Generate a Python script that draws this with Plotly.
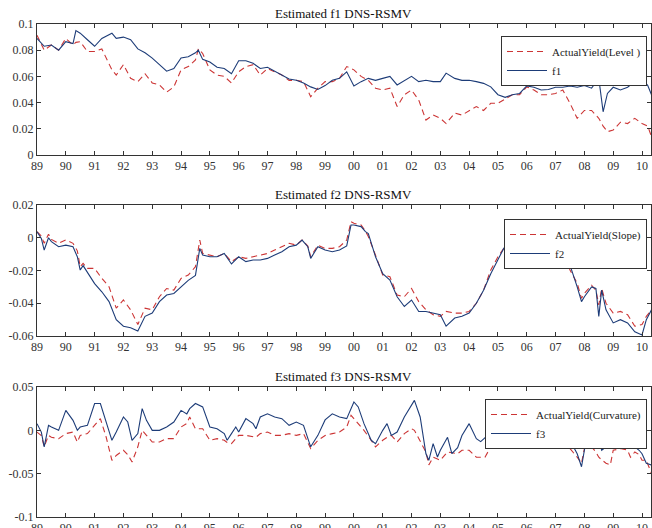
import plotly.graph_objects as go

# ---------------- data ----------------
year_ticks = list(range(1989, 2011))
year_labels = [str(y)[2:] for y in year_ticks]

# Panel 1: level
t1 = [1989.0, 1989.25, 1989.5, 1989.75,
      1990.0, 1990.25, 1990.35, 1990.5, 1990.75,
      1991.0, 1991.25, 1991.5, 1991.6, 1991.75,
      1992.0, 1992.25, 1992.5, 1992.75,
      1993.0, 1993.25, 1993.5, 1993.75,
      1994.0, 1994.25, 1994.5, 1994.6, 1994.75,
      1995.0, 1995.25, 1995.5, 1995.75,
      1996.0, 1996.25, 1996.5, 1996.75,
      1997.0, 1997.25, 1997.5, 1997.75,
      1998.0, 1998.25, 1998.5, 1998.75,
      1999.0, 1999.25, 1999.5, 1999.75,
      2000.0, 2000.25, 2000.5, 2000.75,
      2001.0, 2001.25, 2001.5, 2001.75,
      2002.0, 2002.25, 2002.5, 2002.75,
      2003.0, 2003.2, 2003.5, 2003.75,
      2004.0, 2004.25, 2004.5, 2004.75,
      2005.0, 2005.25, 2005.5, 2005.75,
      2006.0, 2006.25, 2006.5, 2006.75,
      2007.0, 2007.25, 2007.5, 2007.75,
      2008.0, 2008.25, 2008.5, 2008.65, 2008.8,
      2009.0, 2009.25, 2009.5, 2009.75,
      2010.0, 2010.2, 2010.33]
f1_est = [0.089, 0.083, 0.084, 0.080,
          0.0865, 0.085, 0.095, 0.093, 0.088,
          0.083, 0.089, 0.092, 0.093, 0.089,
          0.090, 0.088, 0.081, 0.078,
          0.074, 0.069, 0.064, 0.066,
          0.074, 0.075, 0.078, 0.080, 0.073,
          0.071, 0.067, 0.066, 0.062,
          0.072, 0.072, 0.070, 0.066,
          0.067, 0.064, 0.061, 0.058,
          0.057, 0.055, 0.052, 0.050,
          0.053, 0.057, 0.0585, 0.0635,
          0.0527, 0.056, 0.0585, 0.057,
          0.0585, 0.060, 0.0535, 0.057,
          0.060, 0.056, 0.057, 0.056,
          0.056, 0.0625, 0.0585, 0.057,
          0.057, 0.056, 0.0547, 0.052,
          0.046, 0.044, 0.046, 0.047,
          0.0527, 0.0517, 0.0496, 0.050,
          0.0517, 0.0517, 0.0527, 0.0517,
          0.053, 0.051, 0.0585, 0.033, 0.047,
          0.0517, 0.0496, 0.0517, 0.056,
          0.0585, 0.053, 0.046]
level_act = [0.0915, 0.080, 0.084, 0.080,
             0.089, 0.084, 0.086, 0.0865, 0.079,
             0.079, 0.081, 0.069, 0.065, 0.061,
             0.069, 0.0585, 0.056, 0.062,
             0.055, 0.0535, 0.048, 0.052,
             0.065, 0.0675, 0.0725, 0.081, 0.0775,
             0.065, 0.061, 0.060, 0.055,
             0.0635, 0.0675, 0.069, 0.061,
             0.066, 0.0635, 0.061, 0.057,
             0.057, 0.056, 0.0445, 0.051,
             0.056, 0.056, 0.0585, 0.0675,
             0.065, 0.060, 0.057, 0.051,
             0.0496, 0.051, 0.037, 0.046,
             0.0496, 0.042, 0.0267, 0.0305,
             0.028, 0.024, 0.032, 0.0305,
             0.034, 0.037, 0.034, 0.0395,
             0.0395, 0.043, 0.046, 0.046,
             0.052, 0.0496, 0.046, 0.046,
             0.047, 0.0496, 0.0395, 0.028,
             0.034, 0.034, 0.028, 0.022, 0.0178,
             0.019, 0.025, 0.024, 0.028,
             0.024, 0.022, 0.014]

# Panel 2: slope
t2 = [1989.0, 1989.15, 1989.25, 1989.4, 1989.5, 1989.75,
      1990.0, 1990.25, 1990.4, 1990.5, 1990.6, 1990.75,
      1991.0, 1991.25, 1991.5, 1991.75,
      1992.0, 1992.25, 1992.5, 1992.75,
      1993.0, 1993.25, 1993.5, 1993.75,
      1994.0, 1994.25, 1994.5, 1994.65, 1994.75,
      1995.0, 1995.25, 1995.5, 1995.75,
      1996.0, 1996.25, 1996.5, 1996.75,
      1997.0, 1997.25, 1997.5, 1997.75,
      1998.0, 1998.2, 1998.4, 1998.5, 1998.75,
      1999.0, 1999.25, 1999.5, 1999.75, 1999.9,
      2000.0, 2000.25, 2000.4, 2000.5, 2000.75,
      2001.0, 2001.25, 2001.5, 2001.75,
      2002.0, 2002.25, 2002.5, 2002.75,
      2003.0, 2003.2, 2003.5, 2003.75,
      2004.0, 2004.25, 2004.5, 2004.75,
      2005.0, 2005.2, 2005.5, 2005.75,
      2006.0, 2006.25, 2006.5, 2006.75,
      2007.0, 2007.2, 2007.35, 2007.5, 2007.75, 2007.9,
      2008.0, 2008.25, 2008.4, 2008.5, 2008.6, 2008.75,
      2009.0, 2009.25, 2009.5, 2009.75,
      2010.0, 2010.15, 2010.33]
f2_est = [0.0037, -0.0004, -0.0075, 0.0, -0.0024, -0.0055,
          -0.0045, -0.0055, -0.0116, -0.0197, -0.017, -0.021,
          -0.028, -0.033, -0.039, -0.050,
          -0.054, -0.055, -0.057, -0.048,
          -0.046, -0.039, -0.035, -0.034,
          -0.030, -0.026, -0.023, -0.0065, -0.0106,
          -0.0116, -0.0116, -0.0096, -0.016,
          -0.0116, -0.0146, -0.0136, -0.0136,
          -0.0126, -0.0106, -0.0085, -0.0055,
          -0.0045, -0.0014, -0.0055, -0.0126, -0.0055,
          -0.0075, -0.0085, -0.0075, -0.005, 0.0078,
          0.0078, 0.0068, 0.0037, 0.0026, -0.0116,
          -0.022, -0.0258, -0.036, -0.042,
          -0.038, -0.045, -0.045, -0.046,
          -0.047, -0.054, -0.049, -0.048,
          -0.046, -0.040, -0.032, -0.022,
          -0.0136, -0.0065, -0.001, 0.002,
          0.004, 0.005, 0.004, 0.002,
          -0.002, -0.0065, -0.0116, -0.0167, -0.030, -0.039,
          -0.036, -0.030, -0.031, -0.048, -0.032, -0.044,
          -0.052, -0.050, -0.052, -0.0574,
          -0.0594, -0.050, -0.044]
slope_act = [0.0037, 0.001, -0.0034, 0.0022, -0.001, -0.0034,
             -0.0014, -0.0034, -0.008, -0.0177, -0.0156, -0.0187,
             -0.0187, -0.0248, -0.0299, -0.043,
             -0.038, -0.044, -0.053, -0.043,
             -0.044, -0.036, -0.031, -0.032,
             -0.0248, -0.0228, -0.0177, -0.0014, -0.0096,
             -0.0106, -0.0116, -0.0096, -0.0146,
             -0.0116, -0.0126, -0.0116, -0.0106,
             -0.0096, -0.0075, -0.0055, -0.0034,
             -0.0045, -0.0014, -0.005, -0.0116, -0.0045,
             -0.0065, -0.0065, -0.0055, -0.0014, 0.0098,
             0.0088, 0.0078, 0.004, 0.0007, -0.0106,
             -0.0227, -0.0238, -0.035, -0.036,
             -0.031, -0.039, -0.044, -0.047,
             -0.048, -0.045, -0.046, -0.046,
             -0.045, -0.040, -0.032, -0.0197,
             -0.0116, -0.0065, -0.0005, 0.003,
             0.005, 0.006, 0.005, 0.003,
             -0.001, -0.0055, -0.0116, -0.0197, -0.0278, -0.037,
             -0.034, -0.029, -0.032, -0.041, -0.031, -0.040,
             -0.046, -0.045, -0.047, -0.054,
             -0.053, -0.048, -0.044]

# Panel 3: curvature
t3 = [1989.0, 1989.15, 1989.25, 1989.4, 1989.5, 1989.75,
      1990.0, 1990.25, 1990.4, 1990.5, 1990.75,
      1991.0, 1991.2, 1991.4, 1991.6, 1991.75,
      1992.0, 1992.15, 1992.3, 1992.5, 1992.65, 1992.8,
      1993.0, 1993.25, 1993.5, 1993.75,
      1994.0, 1994.2, 1994.3, 1994.5, 1994.75,
      1995.0, 1995.25, 1995.5, 1995.6, 1995.75, 1995.9,
      1996.0, 1996.25, 1996.5, 1996.6, 1996.75,
      1997.0, 1997.25, 1997.5, 1997.75,
      1998.0, 1998.25, 1998.5, 1998.75,
      1999.0, 1999.25, 1999.5, 1999.75, 1999.9,
      2000.0, 2000.15, 2000.35, 2000.6, 2000.75,
      2001.0, 2001.15, 2001.3, 2001.5, 2001.75,
      2002.0, 2002.1, 2002.3, 2002.5, 2002.6, 2002.75, 2002.9,
      2003.0, 2003.25, 2003.4, 2003.6, 2003.75,
      2004.0, 2004.25, 2004.4, 2004.55, 2004.7, 2004.85,
      2005.0, 2005.25, 2005.5, 2005.75,
      2006.0, 2006.25, 2006.5, 2006.75,
      2007.0, 2007.1, 2007.25, 2007.5, 2007.75, 2007.9,
      2008.0, 2008.1, 2008.25, 2008.4, 2008.5, 2008.6, 2008.75, 2008.9,
      2009.0, 2009.15, 2009.25, 2009.4, 2009.5, 2009.6, 2009.75, 2009.9,
      2010.0, 2010.15, 2010.33]
f3_est = [0.0077, -0.002, -0.019, 0.0058, 0.0038, 0.0,
          0.023, 0.0115, 0.0, 0.0038, 0.0058,
          0.031, 0.031, 0.0096, -0.0115, -0.002,
          0.0154, 0.0096, -0.0115, -0.0038, 0.025, 0.0115,
          0.0, 0.0, 0.0038, 0.0096,
          0.023, 0.019, 0.025, 0.031, 0.027,
          0.0038, 0.0019, -0.0038, -0.0115, -0.0038, 0.0038,
          -0.002, 0.0135, 0.0077, 0.0019, 0.0154,
          0.019, 0.0154, 0.0135, 0.0058,
          0.0096, 0.0058, -0.019, -0.0058,
          0.012, 0.019, 0.0154, 0.0135, 0.025,
          0.0327, 0.027, 0.0077, -0.0115, -0.0154,
          0.0, 0.0077, -0.0058, -0.002, 0.0154,
          0.029, 0.0346, 0.0154, -0.027, -0.0346, -0.0154, -0.0308,
          -0.023, -0.008, -0.027, -0.020, -0.006,
          0.0077, -0.0096, -0.013, -0.008, -0.004, 0.008,
          0.010, -0.005, -0.004, 0.008,
          0.006, -0.003, -0.0115, -0.017,
          -0.0058, 0.0, -0.017, -0.0115, -0.027, -0.042,
          -0.023, -0.0058, -0.0115, -0.019, -0.0096, -0.023, -0.019, -0.0096,
          -0.0058, -0.0077, -0.0115, -0.0096, -0.0154, -0.0096, -0.019, -0.023,
          -0.027, -0.038, -0.040]
curv_act = [-0.002, -0.006, -0.019, -0.0058, -0.008, -0.0096,
            -0.0038, -0.002, -0.0135, -0.0058, -0.0038,
            0.0058, 0.0135, -0.0077, -0.0346, -0.029,
            -0.023, -0.028, -0.0365, -0.019, 0.0, -0.0058,
            -0.0135, -0.0135, -0.0096, -0.0096,
            0.0038, 0.008, 0.0154, 0.0019, 0.0019,
            -0.0115, -0.0096, -0.0115, -0.014, -0.0154, -0.010,
            -0.0058, -0.0058, -0.0077, -0.008, -0.0038,
            -0.002, -0.0058, -0.0058, -0.0038,
            -0.0058, -0.0038, -0.021, -0.0115,
            -0.006, -0.0038, -0.002, 0.0038, 0.0173,
            0.0135, 0.008, 0.0, -0.0115, -0.019,
            -0.0115, -0.008, -0.0058, -0.0135, -0.0038,
            0.0019, 0.0, -0.012, -0.025, -0.040, -0.031, -0.033,
            -0.0346, -0.025, -0.026, -0.027, -0.023,
            -0.023, -0.031, -0.031, -0.031, -0.022, -0.016,
            -0.0135, -0.0154, -0.0096, -0.0058,
            -0.0077, -0.0058, -0.0096, -0.0135,
            -0.0115, -0.012, -0.017, -0.021, -0.031, -0.038,
            -0.021, -0.020, -0.019, -0.025, -0.031, -0.034, -0.038, -0.040,
            -0.023, -0.022, -0.021, -0.022, -0.023, -0.031, -0.025, -0.028,
            -0.0346, -0.0346, -0.050]

panel_titles = ["Estimated f1 DNS-RSMV", "Estimated f2 DNS-RSMV", "Estimated f3 DNS-RSMV"]
actual_names = ["ActualYield(Level )", "ActualYield(Slope)", "ActualYield(Curvature)"]
est_names = ["f1", "f2", "f3"]

y1_ticks = [0, 0.02, 0.04, 0.06, 0.08, 0.1]
y1_labels = ["0", "0.02", "0.04", "0.06", "0.08", "0.1"]
y2_ticks = [-0.06, -0.04, -0.02, 0, 0.02]
y2_labels = ["-0.06", "-0.04", "-0.02", "0", "0.02"]
y3_ticks = [-0.1, -0.05, 0, 0.05]
y3_labels = ["-0.1", "-0.05", "0", "0.05"]

# ---------------- styling ----------------
W, H = 652, 528
FONT = "Liberation Serif, Times New Roman, serif"
RED = "#cc3535"
BLUE = "#1d3c78"
FRAME = "#333333"

x_left, x_right = 37, 651
x_min = 1989.0
px_per_year = 28.81
x_max = x_min + (x_right - x_left) / px_per_year

panels_px = [(24, 155), (205, 336), (387, 517)]  # top, bottom in pixels
legend_px = [(647, 36), (647, 219), (647, 399)]   # right edge, top

data_sets = [
    (t1, level_act, f1_est, (0, 0.1), y1_ticks, y1_labels),
    (t2, slope_act, f2_est, (-0.06, 0.02), y2_ticks, y2_labels),
    (t3, curv_act, f3_est, (-0.1, 0.05), y3_ticks, y3_labels),
]

fig = go.Figure()
layout = dict(
    template="none",
    width=W, height=H,
    margin=dict(l=0, r=0, t=0, b=0, autoexpand=False),
    paper_bgcolor="white", plot_bgcolor="white",
    font=dict(family=FONT, size=12, color="#333333"),
    showlegend=True,
    annotations=[],
)

for i, (t, act, est, yr, yt, yl) in enumerate(data_sets):
    n = "" if i == 0 else str(i + 1)
    xa, ya = "x" + n, "y" + n
    leg = "legend" + n
    fig.add_trace(go.Scatter(x=t, y=act, mode="lines", name=actual_names[i],
                             line=dict(color=RED, width=1.1, dash="6px,4px"),
                             xaxis=xa, yaxis=ya, legend=leg))
    fig.add_trace(go.Scatter(x=t, y=est, mode="lines", name=est_names[i],
                             line=dict(color=BLUE, width=1.1),
                             xaxis=xa, yaxis=ya, legend=leg))
    top, bot = panels_px[i]
    dom_y = [1 - bot / H, 1 - top / H]
    axis_common = dict(showline=True, linecolor=FRAME, linewidth=1, mirror="allticks",
                       ticks="inside", ticklen=4, tickcolor=FRAME, showgrid=False,
                       zeroline=False, automargin=False,
                       tickfont=dict(family=FONT, size=12, color="#333333"))
    layout["xaxis" + n] = dict(domain=[x_left / W, x_right / W], range=[x_min, x_max],
                               tickvals=year_ticks, ticktext=year_labels,
                               anchor=ya, **axis_common)
    layout["yaxis" + n] = dict(domain=dom_y, range=list(yr), tickvals=yt, ticktext=yl,
                               anchor=xa, **axis_common)
    lx, ly = legend_px[i]
    layout[leg] = dict(x=lx / W, y=1 - ly / H, xanchor="right", yanchor="top",
                       bgcolor="white", bordercolor=FRAME, borderwidth=1,
                       font=dict(family=FONT, size=11, color="#222222"),
                       tracegroupgap=0, itemwidth=40)
    layout["annotations"].append(dict(
        text=panel_titles[i], x=(x_left + x_right) / 2 / W, y=1 - (top - 1) / H,
        xref="paper", yref="paper", xanchor="center", yanchor="bottom",
        showarrow=False, font=dict(family=FONT, size=13, color="#111111")))

fig.update_layout(**layout)
fig.write_html("out.html",
               config={"displayModeBar": False},
               post_script="document.body.style.margin='0';document.body.style.overflow='hidden';")
